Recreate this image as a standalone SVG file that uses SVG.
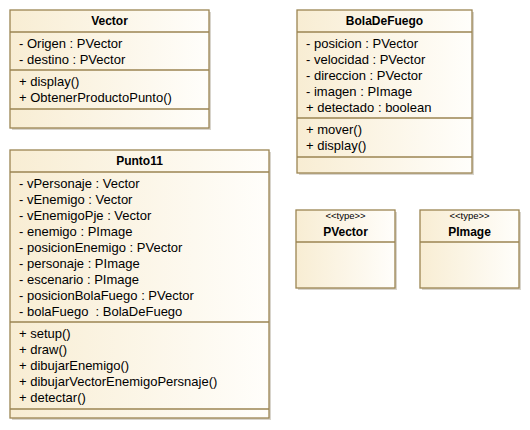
<svg xmlns="http://www.w3.org/2000/svg" width="530" height="430" viewBox="0 0 530 430">
<defs>
<linearGradient id="g" x1="0" y1="0" x2="1" y2="0">
<stop offset="0" stop-color="#F8EDD3"/>
<stop offset="1" stop-color="#FFFEFB"/>
</linearGradient>
<style>
.sh{fill:#D8D4CC;}
.box{fill:url(#g);stroke:#9B8552;stroke-width:1.3;}
.sep{stroke:#9B8552;stroke-width:1.3;}
text{font-family:"Liberation Sans",Arial,sans-serif;font-size:13px;fill:#000;}
.t{font-size:12px;font-weight:bold;text-anchor:middle;}
.st{font-size:9.5px;text-anchor:middle;}
</style>
</defs>
<rect width="530" height="430" fill="#fff"/>
<g id="Vector">
<rect class="sh" x="12" y="12" width="199" height="118"/>
<rect class="box" x="10" y="10" width="199" height="118"/>
<line class="sep" x1="10" y1="32" x2="209" y2="32"/>
<line class="sep" x1="10" y1="70" x2="209" y2="70"/>
<line class="sep" x1="10" y1="109" x2="209" y2="109"/>
<text class="t" x="109.5" y="25">Vector</text>
<text x="19" y="48">- Origen : PVector</text>
<text x="19" y="64">- destino : PVector</text>
<text x="19" y="86">+ display()</text>
<text x="19" y="102">+ ObtenerProductoPunto()</text>
</g>
<g id="BolaDeFuego">
<rect class="sh" x="299" y="12" width="175" height="163"/>
<rect class="box" x="297" y="10" width="175" height="163"/>
<line class="sep" x1="297" y1="32" x2="472" y2="32"/>
<line class="sep" x1="297" y1="118" x2="472" y2="118"/>
<line class="sep" x1="297" y1="157" x2="472" y2="157"/>
<text class="t" x="384.5" y="25">BolaDeFuego</text>
<text x="306" y="48">- posicion : PVector</text>
<text x="306" y="64">- velocidad : PVector</text>
<text x="306" y="80">- direccion : PVector</text>
<text x="306" y="96">- imagen : PImage</text>
<text x="306" y="112">+ detectado : boolean</text>
<text x="306" y="134">+ mover()</text>
<text x="306" y="150">+ display()</text>
</g>
<g id="Punto11">
<rect class="sh" x="12" y="152" width="259" height="268"/>
<rect class="box" x="10" y="150" width="259" height="268"/>
<line class="sep" x1="10" y1="172" x2="269" y2="172"/>
<line class="sep" x1="10" y1="322" x2="269" y2="322"/>
<line class="sep" x1="10" y1="409" x2="269" y2="409"/>
<text class="t" x="139.5" y="165">Punto11</text>
<text x="19" y="188">- vPersonaje : Vector</text>
<text x="19" y="204">- vEnemigo : Vector</text>
<text x="19" y="220">- vEnemigoPje : Vector</text>
<text x="19" y="236">- enemigo : PImage</text>
<text x="19" y="252">- posicionEnemigo : PVector</text>
<text x="19" y="268">- personaje : PImage</text>
<text x="19" y="284">- escenario : PImage</text>
<text x="19" y="300">- posicionBolaFuego : PVector</text>
<text x="19" y="316" xml:space="preserve">- bolaFuego  : BolaDeFuego</text>
<text x="19" y="338">+ setup()</text>
<text x="19" y="354">+ draw()</text>
<text x="19" y="370">+ dibujarEnemigo()</text>
<text x="19" y="386">+ dibujarVectorEnemigoPersnaje()</text>
<text x="19" y="402">+ detectar()</text>
</g>
<g id="PVector">
<rect class="sh" x="298" y="212" width="99" height="78"/>
<rect class="box" x="296" y="210" width="99" height="78"/>
<line class="sep" x1="296" y1="242" x2="395" y2="242"/>
<text class="st" x="345.5" y="219">&lt;&lt;type&gt;&gt;</text>
<text class="t" x="345.5" y="236">PVector</text>
</g>
<g id="PImage">
<rect class="sh" x="422" y="212" width="99" height="78"/>
<rect class="box" x="420" y="210" width="99" height="78"/>
<line class="sep" x1="420" y1="242" x2="519" y2="242"/>
<text class="st" x="469.5" y="219">&lt;&lt;type&gt;&gt;</text>
<text class="t" x="469.5" y="236">PImage</text>
</g>
<g id="connectors"/>
</svg>
